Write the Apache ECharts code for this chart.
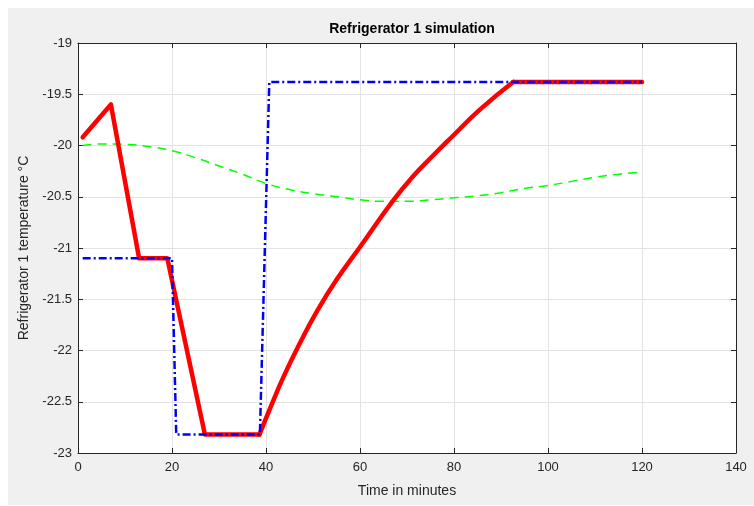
<!DOCTYPE html>
<html>
<head>
<meta charset="utf-8">
<script src="https://cdn.jsdelivr.net/npm/echarts@6/dist/echarts.min.js"></script>
<style>
html,body{margin:0;padding:0;background:#fff;width:754px;height:506px;overflow:hidden;}
#chart{position:absolute;left:8px;top:8px;width:746px;height:497px;background:#f0f0f0;}
</style>
</head>
<body>
<div id="chart"></div>
<script>
// Tick ranges
const xTicks = [0, 20, 40, 60, 80, 100, 120, 140];
const yTicks = [-23, -22.5, -22, -21.5, -21, -20.5, -20, -19.5, -19];

// Red: refrigerator temperature (three pieces: ramps, recovery curve, plateau)
const redRampTime = [1, 7, 13, 19, 27, 38.6];
const redRampTemp = [-19.92, -19.6, -21.1, -21.1, -22.82, -22.82];
const redCurveTime = [38.6, 41, 43.7, 47.2, 50.8, 55, 60, 67, 71.3, 75.5, 79.9, 85.5, 92.6];
const redCurveTemp = [-22.82, -22.55, -22.26, -21.93, -21.62, -21.31, -20.99, -20.54, -20.3, -20.1, -19.9, -19.65, -19.38];
const redFlatTime = [92.6, 120];
const redFlatTemp = [-19.38, -19.38];

// Blue: setpoint (dash-dot)
const blueTime = [1, 20, 20.9, 38.7, 40.7, 120];
const blueTemp = [-21.1, -21.1, -22.82, -22.82, -19.38, -19.38];

// Green: dashed
const greenTime = [1, 5, 10, 15, 20, 25, 30, 35, 40, 45, 50, 55, 60, 65, 70, 75, 80, 85, 90, 95, 100, 105, 110, 115, 120];
const greenTemp = [-20.0, -19.985, -19.99, -20.01, -20.05, -20.12, -20.2, -20.28, -20.37, -20.43, -20.47, -20.5, -20.53, -20.545, -20.545, -20.53, -20.51, -20.49, -20.46, -20.42, -20.39, -20.35, -20.31, -20.28, -20.26];

const zip = (a, b) => a.map((v, i) => [v, b[i]]);
const FONT = '"Liberation Sans", Arial, Helvetica, sans-serif';
const AX = '#262626';

const chart = echarts.init(document.getElementById('chart'), null, {renderer: 'canvas'});
const baseX = {
  type: 'value', min: xTicks[0], max: xTicks[xTicks.length - 1], interval: xTicks[1] - xTicks[0]
};
const baseY = {
  type: 'value', min: yTicks[0], max: yTicks[yTicks.length - 1], interval: yTicks[1] - yTicks[0]
};
const redStyle = {color: '#ff0000', width: 4.5, join: 'round', cap: 'round'};
chart.setOption({
  animation: false,
  backgroundColor: 'transparent',
  title: {
    text: 'Refrigerator 1 simulation',
    left: 399, top: 9, textAlign: 'center',
    textStyle: {fontFamily: FONT, fontSize: 14, fontWeight: 'bold', color: '#000'}
  },
  grid: {
    left: 70, top: 35, width: 658, height: 410,
    show: true, backgroundColor: '#fff', borderWidth: 0
  },
  xAxis: [
    Object.assign({}, baseX, {
      position: 'bottom',
      name: 'Time in minutes', nameLocation: 'middle', nameGap: 31,
      nameTextStyle: {fontFamily: FONT, fontSize: 14, color: AX},
      axisLine: {show: true, lineStyle: {color: AX, width: 1}},
      axisTick: {show: true, inside: true, length: 5, lineStyle: {color: AX}},
      axisLabel: {fontFamily: FONT, fontSize: 13, color: AX, margin: 8},
      splitLine: {show: true, lineStyle: {color: '#e3e3e3', width: 1}}
    }),
    Object.assign({}, baseX, {
      position: 'top',
      axisLine: {show: true, onZero: false, lineStyle: {color: AX, width: 1}},
      axisTick: {show: true, inside: true, length: 5, lineStyle: {color: AX}},
      axisLabel: {show: false},
      splitLine: {show: false}
    })
  ],
  yAxis: [
    Object.assign({}, baseY, {
      position: 'left',
      name: 'Refrigerator 1 temperature °C', nameLocation: 'middle', nameGap: 45,
      nameTextStyle: {fontFamily: FONT, fontSize: 14, color: AX},
      axisLine: {show: true, onZero: false, lineStyle: {color: AX, width: 1}},
      axisTick: {show: true, inside: true, length: 5, lineStyle: {color: AX}},
      axisLabel: {fontFamily: FONT, fontSize: 13, color: AX, margin: 6},
      splitLine: {show: true, lineStyle: {color: '#e3e3e3', width: 1}}
    }),
    Object.assign({}, baseY, {
      position: 'right',
      axisLine: {show: true, onZero: false, lineStyle: {color: AX, width: 1}},
      axisTick: {show: true, inside: true, length: 5, lineStyle: {color: AX}},
      axisLabel: {show: false},
      splitLine: {show: false}
    })
  ],
  series: [
    {
      type: 'line', name: 'green', data: zip(greenTime, greenTemp),
      showSymbol: false, smooth: true, z: 2,
      lineStyle: {color: '#00ff00', width: 1.5, type: [9, 6]}
    },
    {
      type: 'line', name: 'red', data: zip(redRampTime, redRampTemp),
      showSymbol: false, z: 3, lineStyle: redStyle
    },
    {
      type: 'line', name: 'red', data: zip(redCurveTime, redCurveTemp),
      showSymbol: false, smooth: true, z: 3, lineStyle: redStyle
    },
    {
      type: 'line', name: 'red', data: zip(redFlatTime, redFlatTemp),
      showSymbol: false, z: 3, lineStyle: redStyle
    },
    {
      type: 'line', name: 'blue', data: zip(blueTime, blueTemp),
      showSymbol: false, z: 4,
      lineStyle: {color: '#0000ff', width: 2.5, type: [8, 3, 2, 3]}
    }
  ]
});
</script>
</body>
</html>
